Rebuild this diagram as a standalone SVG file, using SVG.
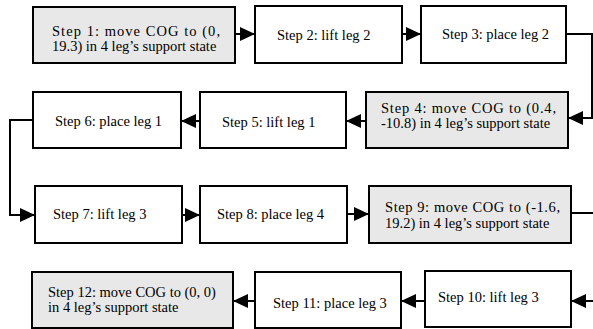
<svg xmlns="http://www.w3.org/2000/svg" width="593" height="329" viewBox="0 0 593 329">
  <style>
    .box { fill: #ffffff; stroke: #000000; stroke-width: 2; }
    .hl { fill: #e8e8e8; }
    .lbl { font-family: "Liberation Serif", "Times New Roman", serif; font-size: 14.5px; fill: #000000; }
    .wire { fill: none; stroke: #000000; stroke-width: 2; }
  </style>
  <defs>
    <marker id="arrow" markerUnits="userSpaceOnUse" markerWidth="16" markerHeight="15" refX="15" refY="7" orient="auto">
      <path d="M0,0 L15,7 L0,14 Z" fill="#000000"/>
    </marker>
  </defs>

  <!-- connectors -->
  <g id="connectors">
    <path class="wire" d="M235,34 L255,34" marker-end="url(#arrow)"/>
    <path class="wire" d="M402,34 L421,34" marker-end="url(#arrow)"/>
    <path class="wire" d="M566,34 L592,34 L592,118 L568,118" marker-end="url(#arrow)"/>
    <path class="wire" d="M366,121 L346,121" marker-end="url(#arrow)"/>
    <path class="wire" d="M200,121 L181,121" marker-end="url(#arrow)"/>
    <path class="wire" d="M33,120 L10,120 L10,215 L35,215" marker-end="url(#arrow)"/>
    <path class="wire" d="M182,215 L200,215" marker-end="url(#arrow)"/>
    <path class="wire" d="M347,214 L369,214" marker-end="url(#arrow)"/>
    <path class="wire" d="M571,213 L594,213"/>
    <path class="wire" d="M594,301 L571,301" marker-end="url(#arrow)"/>
    <path class="wire" d="M425,301 L401,301" marker-end="url(#arrow)"/>
    <path class="wire" d="M255,301 L233,301" marker-end="url(#arrow)"/>
  </g>

  <g id="step1">
    <rect class="box hl" x="33" y="7" width="202" height="56"/>
    <text class="lbl" x="52" y="36" textLength="168" lengthAdjust="spacing">Step 1: move COG to (0,</text>
    <text class="lbl" x="52" y="51">19.3) in 4 leg’s support state</text>
  </g>
  <g id="step2">
    <rect class="box" x="255" y="6" width="147" height="57"/>
    <text class="lbl" x="277" y="39.5">Step 2: lift leg 2</text>
  </g>
  <g id="step3">
    <rect class="box" x="421" y="6" width="145" height="57"/>
    <text class="lbl" x="442" y="39">Step 3: place leg 2</text>
  </g>
  <g id="step4">
    <rect class="box hl" x="366" y="92" width="202" height="56"/>
    <text class="lbl" x="381" y="112.5" textLength="175" lengthAdjust="spacing">Step 4: move COG to (0.4,</text>
    <text class="lbl" x="381" y="128">-10.8) in 4 leg’s support state</text>
  </g>
  <g id="step5">
    <rect class="box" x="200" y="92" width="146" height="56"/>
    <text class="lbl" x="222" y="126.5">Step 5: lift leg 1</text>
  </g>
  <g id="step6">
    <rect class="box" x="33" y="92" width="148" height="56"/>
    <text class="lbl" x="55" y="126">Step 6: place leg 1</text>
  </g>
  <g id="step7">
    <rect class="box" x="35" y="186" width="147" height="57"/>
    <text class="lbl" x="53" y="218.5">Step 7: lift leg 3</text>
  </g>
  <g id="step8">
    <rect class="box" x="200" y="186" width="147" height="57"/>
    <text class="lbl" x="217" y="218.5">Step 8: place leg 4</text>
  </g>
  <g id="step9">
    <rect class="box hl" x="369" y="186" width="202" height="57"/>
    <text class="lbl" x="385" y="211.5" textLength="175" lengthAdjust="spacing">Step 9: move COG to (-1.6,</text>
    <text class="lbl" x="385" y="228">19.2) in 4 leg’s support state</text>
  </g>
  <g id="step10">
    <rect class="box" x="425" y="271" width="146" height="56"/>
    <text class="lbl" x="438" y="302">Step 10: lift leg 3</text>
  </g>
  <g id="step11">
    <rect class="box" x="255" y="272" width="146" height="56"/>
    <text class="lbl" x="273" y="307.5">Step 11: place leg 3</text>
  </g>
  <g id="step12">
    <rect class="box hl" x="32" y="272" width="201" height="56"/>
    <text class="lbl" x="48" y="296.5">Step 12: move COG to (0, 0)</text>
    <text class="lbl" x="48" y="311.5">in 4 leg’s support state</text>
  </g>
</svg>
